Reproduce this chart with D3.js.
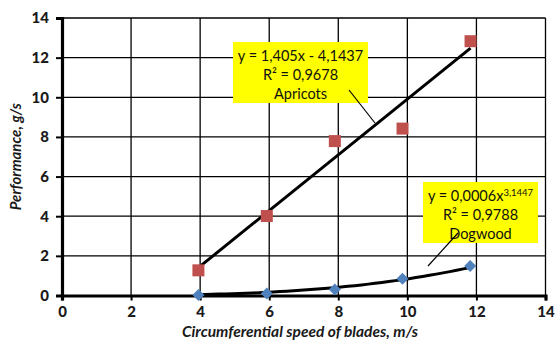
<!DOCTYPE html>
<html>
  <head>
    <meta http-equiv="Content-type" content="text/html; charset=utf-8">
    <title>Performance vs blade speed</title>
    <script src="https://d3js.org/d3.v7.min.js"></script>
    <style>
      body { margin: 0; background: #fff; }
      text { font-family: Lato, "Open Sans", sans-serif; }
    </style>
  </head>
  <body>
    <div id="chart"></div>
    <script type="text/javascript">
      // speeds (m/s) and performance (g/s)
      var apricotX = [3.95, 5.93, 7.9, 9.86, 11.83];
      var apricotY = [1.27, 4.01, 7.79, 8.42, 12.83];
      var dogwoodX = [3.95, 5.93, 7.9, 9.86, 11.82];
      var dogwoodY = [0.02, 0.1, 0.3, 0.84, 1.49];

      // trendline coefficients as printed on the chart
      var apricotFit = [1.405, -4.1437];   // y = a*x + b
      var dogwoodFit = [0.0006, 3.1447];   // y = a*x^b

      var xTicks = [0, 2, 4, 6, 8, 10, 12, 14];
      var yTicks = [0, 2, 4, 6, 8, 10, 12, 14];

      var width = 556, height = 340;
      var margin = {top: 18, right: 10, bottom: 45, left: 62};

      var svg = d3.select("#chart").append("svg")
        .attr("width", width)
        .attr("height", height);

      var x = d3.scaleLinear().domain([0, 14]).range([margin.left, 545.5]);
      var y = d3.scaleLinear().domain([0, 14]).range([295.5, margin.top]);

      // grid
      svg.append("g").selectAll("line.v")
        .data(xTicks.filter(function(d) { return d > 0; }))
        .enter().append("line")
        .attr("x1", function(d) { return x(d); })
        .attr("x2", function(d) { return x(d); })
        .attr("y1", y(14))
        .attr("y2", y(0))
        .attr("stroke", "#000")
        .attr("stroke-width", 1.3);

      svg.append("g").selectAll("line.h")
        .data(yTicks.filter(function(d) { return d > 0; }))
        .enter().append("line")
        .attr("x1", x(0))
        .attr("x2", x(14))
        .attr("y1", function(d) { return y(d); })
        .attr("y2", function(d) { return y(d); })
        .attr("stroke", "#000")
        .attr("stroke-width", 1.3);

      // axes
      var xAxis = svg.append("g")
        .attr("transform", "translate(0," + y(0) + ")")
        .call(d3.axisBottom(x).tickValues(xTicks).tickSize(5).tickPadding(6));
      var yAxis = svg.append("g")
        .attr("transform", "translate(" + x(0) + ",0)")
        .call(d3.axisLeft(y).tickValues(yTicks).tickSize(6).tickPadding(7));

      [xAxis, yAxis].forEach(function(a) {
        a.select(".domain").attr("stroke", "#000").attr("stroke-width", 3.2);
        a.selectAll(".tick line").attr("stroke", "#000").attr("stroke-width", 2);
        a.selectAll(".tick text")
          .style("font-family", "Lato, sans-serif")
          .style("font-size", "15px")
          .style("font-weight", "900")
          .attr("fill", "#1a1a1a");
      });

      svg.append("text")
        .attr("x", 300)
        .attr("y", 337)
        .attr("text-anchor", "middle")
        .style("font-size", "15.5px")
        .style("font-weight", "bold")
        .style("font-style", "italic")
        .attr("fill", "#1a1a1a")
        .text("Circumferential speed of blades, m/s");

      svg.append("text")
        .attr("transform", "translate(21," + (y(0) + y(14)) / 2 + ") rotate(-90)")
        .attr("text-anchor", "middle")
        .style("font-size", "15px")
        .style("font-weight", "bold")
        .style("font-style", "italic")
        .attr("fill", "#1a1a1a")
        .text("Performance, g/s");

      // trendlines
      var line = d3.line()
        .x(function(d) { return x(d[0]); })
        .y(function(d) { return y(d[1]); });

      var ax0 = d3.min(apricotX), ax1 = d3.max(apricotX);
      svg.append("path")
        .datum([ax0, ax1].map(function(v) { return [v, apricotFit[0] * v + apricotFit[1]]; }))
        .attr("d", line)
        .attr("fill", "none")
        .attr("stroke", "#000")
        .attr("stroke-width", 3);

      var dx0 = d3.min(dogwoodX), dx1 = d3.max(dogwoodX);
      svg.append("path")
        .datum(d3.range(0, 41).map(function(i) {
          var v = dx0 + (dx1 - dx0) * i / 40;
          return [v, dogwoodFit[0] * Math.pow(v, dogwoodFit[1])];
        }))
        .attr("d", line)
        .attr("fill", "none")
        .attr("stroke", "#000")
        .attr("stroke-width", 3);

      // markers
      svg.append("g").selectAll("rect")
        .data(d3.zip(apricotX, apricotY))
        .enter().append("rect")
        .attr("x", function(d) { return x(d[0]) - 6; })
        .attr("y", function(d) { return y(d[1]) - 6; })
        .attr("width", 12)
        .attr("height", 12)
        .attr("fill", "#c0504d");

      svg.append("g").selectAll("path.dia")
        .data(d3.zip(dogwoodX, dogwoodY))
        .enter().append("path")
        .attr("d", "M0,-6L6,0L0,6L-6,0Z")
        .attr("transform", function(d) { return "translate(" + x(d[0]) + "," + y(d[1]) + ")"; })
        .attr("fill", "#4f81bd");

      // equation labels
      function label(box, lines, leader) {
        var g = svg.append("g");
        g.append("rect")
          .attr("x", box[0]).attr("y", box[1])
          .attr("width", box[2]).attr("height", box[3])
          .attr("fill", "#ffff00");
        var cx = box[0] + box[2] / 2;
        lines.forEach(function(l, i) {
          var t = g.append("text")
            .attr("x", cx)
            .attr("y", box[1] + 19 + i * 19)
            .attr("text-anchor", "middle")
            .style("font-size", "14.5px")
            .attr("fill", "#111");
          if (typeof l === "string") t.text(l);
          else {
            t.append("tspan").text(l[0]);
            t.append("tspan").attr("dy", -5).style("font-size", "9.5px").text(l[1]);
          }
        });
        g.append("line")
          .attr("x1", leader[0]).attr("y1", leader[1])
          .attr("x2", leader[2]).attr("y2", leader[3])
          .attr("stroke", "#000")
          .attr("stroke-width", 1.2);
      }

      label([233, 42, 135, 61],
        ["y = 1,405x - 4,1437", "R\u00b2 = 0,9678", "Apricots"],
        [349, 90, 375, 123]);
      label([423, 182, 115, 61],
        [["y = 0,0006x", "3,1447"], "R\u00b2 = 0,9788", "Dogwood"],
        [458, 233, 428, 266]);
    </script>
  </body>
</html>
